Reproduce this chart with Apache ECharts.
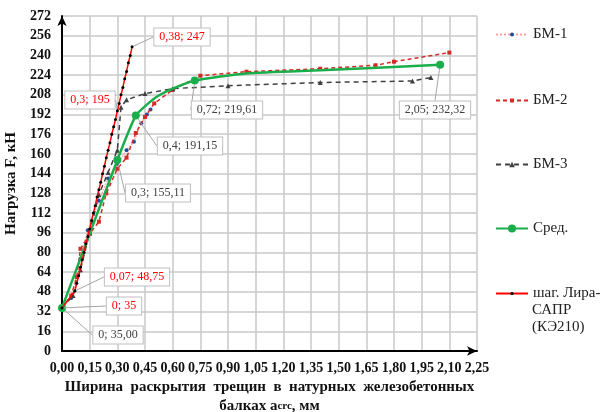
<!DOCTYPE html>
<html><head><meta charset="utf-8">
<script src="https://cdn.jsdelivr.net/npm/echarts@6/dist/echarts.min.js"></script>
<style>html,body{margin:0;padding:0;background:#fff}#c{width:601px;height:412px}</style>
</head><body><div id="c"></div>
<script>
// ---- data ----
var xTicks = [0, 0.15, 0.30, 0.45, 0.60, 0.75, 0.90, 1.05, 1.20, 1.35, 1.50, 1.65, 1.80, 1.95, 2.10, 2.25];
var yTicks = [0, 16, 32, 48, 64, 80, 96, 112, 128, 144, 160, 176, 192, 208, 224, 240, 256, 272];
var seriesNames = ['БМ-1', 'БМ-2', 'БМ-3', 'Сред.', 'шаг. Лира-САПР (КЭ210)'];
var bm1 = [[0,35],[0.05,43],[0.10,75],[0.14,98],[0.20,122],[0.25,140],[0.30,152],[0.35,163],[0.39,170],[0.43,185],[0.46,192],[0.48,196]];
var bm2 = [[0,35],[0.05,45],[0.08,60],[0.10,83],[0.15,95],[0.20,105],[0.24,128],[0.30,148],[0.35,157],[0.40,177],[0.45,190],[0.50,201],[0.60,212],[0.75,223.5],[1.00,226.8],[1.40,229.2],[1.70,232],[1.80,234.9],[2.10,242.3]];
var bm3 = [[0,35],[0.06,45],[0.10,66],[0.15,96],[0.20,127],[0.25,145],[0.30,163],[0.32,198],[0.35,204],[0.45,209],[0.60,213],[0.90,215.4],[1.40,218],[1.90,219.2],[2.00,222]];
var sred = [[0,35.00],[0.30,155.11],[0.40,191.15],[0.46,200],[0.52,207],[0.60,213],[0.72,219.61],[1.00,225.4],[1.40,228],[2.05,232.32]];
var sredMarked = [0, 0.30, 0.40, 0.72, 2.05];
var lira = [[0,35],[0.07,48.75],[0.08,55],[0.09,61],[0.10,68],[0.11,74],[0.12,80],[0.13,87],[0.14,93],[0.15,99],[0.16,106],[0.17,112],[0.18,118],[0.19,125],[0.20,131],[0.21,137],[0.22,144],[0.23,150],[0.24,157],[0.25,163],[0.26,169],[0.27,176],[0.28,182],[0.29,188],[0.30,195],[0.31,201],[0.32,208],[0.33,214],[0.34,221],[0.35,227],[0.36,234],[0.37,240],[0.38,247]];
var liraLabeled = [0, 0.07, 0.30, 0.38];

// ---- label box layout (pixel centres of callout boxes) ----
var liraBoxes = {0: [124, 306], 0.07: [137, 277], 0.3: [90, 100], 0.38: [182, 37]};
var sredBoxes = {0: [118, 335], 0.3: [158, 193], 0.4: [190, 146], 0.72: [227, 110], 2.05: [435, 110]};

var FONT = '"Liberation Serif", "Times New Roman", serif';
function cm(s){ return String(s).replace('.', ','); }

var chart = echarts.init(document.getElementById('c'), null, {renderer: 'canvas'});

function labelCfg(color){
  return {show: true, color: color, fontFamily: FONT, fontSize: 12,
    backgroundColor: '#fff', borderColor: '#bfbfbf', borderWidth: 1, padding: [3, 5, 2, 5]};
}

var liraData = lira.map(function(p){
  var o = {value: p};
  if (liraLabeled.indexOf(p[0]) >= 0) {
    o.label = labelCfg('#ff0000');
    o.label.formatter = cm(p[0]) + '; ' + cm(p[1]);
    o.labelLine = {show: true, lineStyle: {color: '#a6a6a6', width: 1}};
  }
  return o;
});
var sredData = sred.map(function(p){
  var o = {value: p};
  if (sredMarked.indexOf(p[0]) >= 0) {
    o.label = labelCfg('#404040');
    o.label.formatter = cm(p[0]) + '; ' + cm(p[1].toFixed(2));
    o.labelLine = {show: true, lineStyle: {color: '#a6a6a6', width: 1}};
  } else {
    o.symbol = 'none';
  }
  return o;
});

function layoutFor(data, boxes){
  return function(params){
    var p = data[params.dataIndex];
    var b = boxes[p[0]];
    if (!b) return {};
    return {x: b[0], y: b[1], align: 'center', verticalAlign: 'middle'};
  };
}

var legendTops = [27, 93, 157, 221, 286];
var legendIconH = [5, 5, 7, 10, 4];
var nameParts = seriesNames[4].split(' ');   // ['шаг.', 'Лира-САПР', '(КЭ210)']
var legends = seriesNames.map(function(n, i){
  var l = {
    orient: 'vertical', left: 495, top: legendTops[i], padding: 0, itemWidth: 32, itemHeight: legendIconH[i],
    textStyle: {fontFamily: FONT, fontSize: 15, color: '#222'},
    data: [{name: n}]
  };
  if (i === 4) {
    l.formatter = function(s){ return nameParts[0] + ' ' + nameParts[1].split('-')[0] + '-'; };
  }
  return l;
});

var option = {
  animation: false,
  backgroundColor: '#fff',
  textStyle: {fontFamily: FONT},
  grid: {left: 62, right: 124, top: 16, bottom: 61, containLabel: false, outerBoundsMode: 'none'},
  legend: legends,
  graphic: [{
    type: 'text', left: 532, top: 302,
    style: {text: nameParts[1].split('-')[1] + '\n' + nameParts[2], fontFamily: FONT, fontSize: 15, lineHeight: 17, fill: '#222'}
  }],
  xAxis: {
    type: 'value', min: xTicks[0], max: xTicks[xTicks.length - 1], interval: 0.15,
    axisLine: {show: true, symbol: ['none', 'arrow'], symbolSize: [7, 10], lineStyle: {color: '#000', width: 2}},
    axisTick: {show: false},
    splitLine: {show: true, lineStyle: {color: '#c8c8c8', width: 1.5}},
    axisLabel: {fontFamily: FONT, fontSize: 14, fontWeight: 'bold', color: '#111', margin: 10,
      formatter: function(v){ return cm(v.toFixed(2)); }},
    name: '{b|Ширина  раскрытия  трещин  в  натурных  железобетонных}\n{b|балках a}{s|crc}{b|, мм}',
    nameLocation: 'middle', nameGap: 24,
    nameTextStyle: {rich: {
      b: {fontFamily: FONT, fontSize: 15, fontWeight: 'bold', color: '#111', lineHeight: 19},
      s: {fontFamily: FONT, fontSize: 11, fontWeight: 'bold', color: '#111', lineHeight: 19}
    }}
  },
  yAxis: {
    type: 'value', min: yTicks[0], max: yTicks[yTicks.length - 1], interval: 16,
    axisLine: {show: true, symbol: ['none', 'arrow'], symbolSize: [7, 10], lineStyle: {color: '#000', width: 2}},
    axisTick: {show: false},
    splitLine: {show: true, lineStyle: {color: '#c8c8c8', width: 1.5}},
    axisLabel: {fontFamily: FONT, fontSize: 14, fontWeight: 'bold', color: '#111', margin: 11},
    name: 'Нагрузка F, кН', nameLocation: 'middle', nameGap: 37,
    nameTextStyle: {fontFamily: FONT, fontSize: 15, fontWeight: 'bold', color: '#111'}
  },
  series: [
    {name: seriesNames[0], type: 'line', data: bm1, symbol: 'circle', symbolSize: 4, z: 2,
      itemStyle: {color: '#1f4e9c'}, lineStyle: {color: '#f4a3a3', width: 1.5, type: 'dotted'}},
    {name: seriesNames[1], type: 'line', data: bm2, symbol: 'rect', symbolSize: 4, z: 3,
      itemStyle: {color: '#d42a25'}, lineStyle: {color: '#d42a25', width: 1.5, type: [4, 3]}},
    {name: seriesNames[2], type: 'line', data: bm3, symbol: 'triangle', symbolSize: 5, z: 3,
      itemStyle: {color: '#404040'}, lineStyle: {color: '#404040', width: 1.5, type: [5, 4]}},
    {name: seriesNames[3], type: 'line', data: sredData, symbol: 'circle', symbolSize: 8, z: 4, smooth: 0.2,
      itemStyle: {color: '#1aae4b'}, lineStyle: {color: '#1aae4b', width: 2.5},
      labelLayout: layoutFor(sred, sredBoxes)},
    {name: seriesNames[4], type: 'line', data: liraData, symbol: 'circle', symbolSize: 3, z: 5,
      itemStyle: {color: '#000'}, lineStyle: {color: '#ff0000', width: 1.5},
      labelLayout: layoutFor(lira, liraBoxes)}
  ]
};
chart.setOption(option);
</script></body></html>
